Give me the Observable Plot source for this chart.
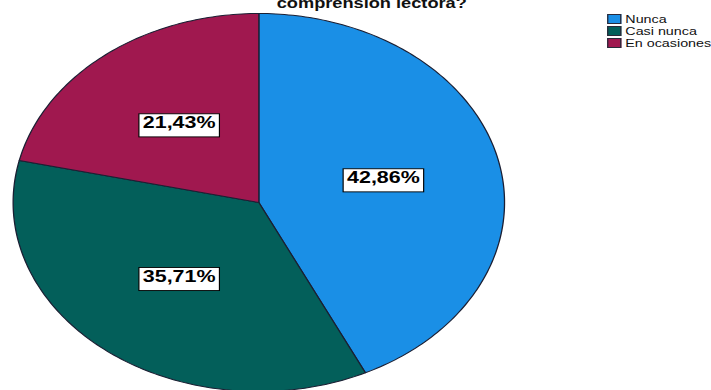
<!DOCTYPE html>
<html>
<head>
<meta charset="utf-8">
<script src="https://cdn.jsdelivr.net/npm/d3@7"></script>
<script src="https://cdn.jsdelivr.net/npm/@observablehq/plot@0.6"></script>
<style>
  html, body { margin: 0; padding: 0; background: #fff; overflow: hidden; }
  #figure {
    position: relative; width: 547px; height: 390px;
    transform: scale(1.3, 1); transform-origin: 0 0;
    font-family: "Liberation Sans", Arial, sans-serif;
  }
  #figure svg { position: absolute; left: 0; top: 0; }
  #title {
    position: absolute; left: 186px; width: 200px; top: -4px;
    text-align: center; font-weight: bold; font-size: 14px; line-height: 14px;
    white-space: nowrap; color: #111;
  }
  #legend { position: absolute; left: 467px; top: 13px; font-size: 11px; line-height: 12px; color: #111; }
  #legend .item { display: flex; align-items: center; height: 12px; white-space: nowrap; }
  #legend .sw { width: 11px; height: 10px; border: 1px solid #2a2a3a; box-sizing: border-box; margin-right: 3px; }
</style>
</head>
<body>
<div id="figure">
  <div id="title">comprensión lectora?</div>
  <div id="legend"></div>
</div>
<script>
// Categories, their shares (in %) and fill colours
const categories = ["Nunca", "Casi nunca", "En ocasiones"];
const percents = [42.86, 35.71, 21.43];
const colors = ["#1a8fe6", "#035f5a", "#a0184f"];

// Slice outlines on the unit circle, starting at 12 o'clock and going clockwise
const arcs = d3.pie().sort(null).value(d => d)(percents);
const outline = [];
const labels = [];
arcs.forEach((a, i) => {
  const cat = categories[i];
  const n = Math.max(2, Math.ceil((a.endAngle - a.startAngle) / (Math.PI / 180)));
  outline.push({cat, x: 0, y: 0});
  for (let k = 0; k <= n; k++) {
    const t = a.startAngle + (a.endAngle - a.startAngle) * k / n;
    outline.push({cat, x: Math.sin(t), y: Math.cos(t)});
  }
  const mid = (a.startAngle + a.endAngle) / 2;
  labels.push({
    cat,
    x: 0.52 * Math.sin(mid),
    y: 0.52 * Math.cos(mid),
    text: percents[i].toFixed(2).replace(".", ",") + "%"
  });
});

const chart = Plot.plot({
  width: 547,
  height: 390,
  margin: 0,
  style: {background: "transparent", fontFamily: "'Liberation Sans', Arial, sans-serif"},
  x: {domain: [-1, 1], range: [9.6, 387.6], axis: null},
  y: {domain: [-1, 1], range: [391, 13], axis: null},
  color: {domain: categories, range: colors},
  marks: [
    Plot.line(outline, {
      x: "x", y: "y", z: "cat", fill: "cat",
      stroke: "#1b1f33", strokeWidth: 1, curve: "linear-closed"
    }),
    Plot.text(labels, {
      x: "x", y: "y", text: "text", dy: -3,
      fontSize: 16.5, fontWeight: "bold", fill: "#000"
    })
  ]
});

const fig = document.getElementById("figure");
fig.insertBefore(chart, fig.firstChild);

// White boxes with a black border behind each percentage label
chart.querySelectorAll('g[aria-label="text"] text').forEach(t => {
  const b = t.getBBox();
  const r = document.createElementNS("http://www.w3.org/2000/svg", "rect");
  const tr = t.getAttribute("transform");
  if (tr) r.setAttribute("transform", tr);
  r.setAttribute("x", b.x - 3);
  r.setAttribute("y", b.y + 0.5);
  r.setAttribute("width", b.width + 6);
  r.setAttribute("height", b.height + 5);
  r.setAttribute("fill", "#fff");
  r.setAttribute("stroke", "#000");
  r.setAttribute("stroke-width", 0.9);
  t.parentNode.insertBefore(r, t);
});

// Legend
const legend = document.getElementById("legend");
categories.forEach((c, i) => {
  const item = document.createElement("div");
  item.className = "item";
  const sw = document.createElement("span");
  sw.className = "sw";
  sw.style.background = colors[i];
  const lab = document.createElement("span");
  lab.textContent = c;
  item.appendChild(sw);
  item.appendChild(lab);
  legend.appendChild(item);
});
</script>
</body>
</html>
